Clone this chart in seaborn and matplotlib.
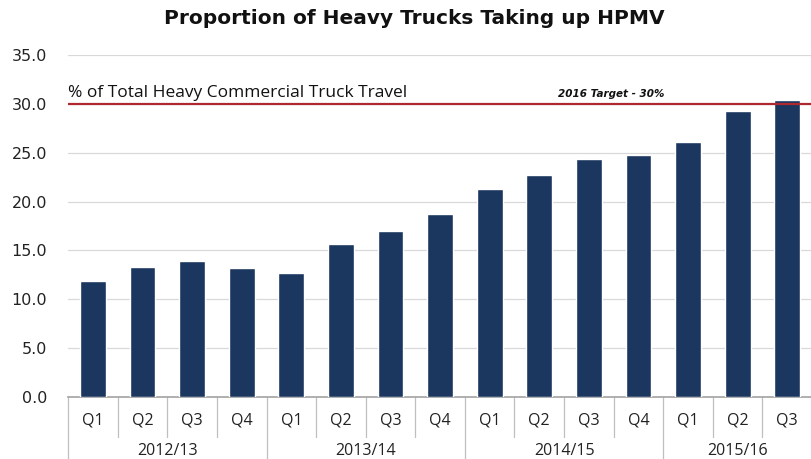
import matplotlib
matplotlib.use("Agg")
import matplotlib.pyplot as plt
import matplotlib.transforms as mtransforms
import seaborn as sns
import pandas as pd

quarters = ["Q1", "Q2", "Q3", "Q4", "Q1", "Q2", "Q3", "Q4",
            "Q1", "Q2", "Q3", "Q4", "Q1", "Q2", "Q3"]
years = ["2012/13"] * 4 + ["2013/14"] * 4 + ["2014/15"] * 4 + ["2015/16"] * 3
year_labels = ["2012/13", "2013/14", "2014/15", "2015/16"]
values = [11.9, 13.3, 13.9, 13.2, 12.7, 15.7, 17.0, 18.7,
          21.3, 22.7, 24.4, 24.8, 26.1, 29.3, 30.4]
target = 30.0

df = pd.DataFrame({"pos": [f"{y} {q}" for y, q in zip(years, quarters)],
                   "value": values})

sns.set_theme(style="white")
plt.rcParams["font.family"] = ["DejaVu Sans"]

fig = plt.figure(figsize=(8.12, 4.59), dpi=100)
ax = fig.add_axes([0.084, 0.135, 0.916, 0.745])

sns.barplot(data=df, x="pos", y="value", color="#1B365F", width=0.52,
            saturation=1, ax=ax, zorder=3)

ax.set_ylim(0, 35)
ax.set_xlim(-0.5, len(values) - 0.5)
ax.set_yticks([0, 5, 10, 15, 20, 25, 30, 35])
ax.set_yticklabels([f"{v:.1f}" for v in [0, 5, 10, 15, 20, 25, 30, 35]],
                   fontsize=11.5, color="#222222")
ax.yaxis.grid(True, color="#D9D9D9", linewidth=0.9, zorder=0)
ax.set_xlabel("")
ax.set_ylabel("")
ax.set_xticks([])
for s in ["left", "right", "top"]:
    ax.spines[s].set_visible(False)
ax.spines["bottom"].set_color("#A6A6A6")
ax.tick_params(axis="y", length=0, pad=15)

# target line
ax.axhline(target, color="#B0282F", linewidth=1.6, zorder=4)
ax.text(-0.5, target + 0.3, "% of Total Heavy Commercial Truck Travel",
        fontsize=12.5, va="bottom", ha="left", color="#111111",
        family="Open Sans")
ax.text(10.45, target + 0.5, "2016 Target - 30%", fontsize=7.5,
        style="italic", weight="bold", va="bottom", ha="center",
        color="#111111")

# multi-level category axis
trans = mtransforms.blended_transform_factory(ax.transData, ax.transAxes)
for i, q in enumerate(quarters):
    ax.text(i, -0.068, q, transform=trans, ha="center", va="center",
            fontsize=11.5, color="#222222", family="Open Sans")
group_starts = [0]
for i in range(1, len(years)):
    if years[i] != years[i - 1]:
        group_starts.append(i)
for i in range(len(values) + 1):
    x = i - 0.5
    is_group = (i in group_starts)
    y0 = -0.185 if is_group else -0.118
    ax.plot([x, x], [0, y0], transform=trans, color="#BFBFBF",
            linewidth=0.9, clip_on=False)
group_ends = group_starts[1:] + [len(values)]
for label, s, e in zip(year_labels, group_starts, group_ends):
    ax.text((s + e - 1) / 2, -0.158, label, transform=trans, ha="center",
            va="center", fontsize=11.5, color="#222222", family="Open Sans")

fig.text(0.51, 0.96, "Proportion of Heavy Trucks Taking up HPMV",
         ha="center", va="center", fontsize=14.5, weight="bold",
         color="#111111")

fig.savefig("out.png", dpi=100)
